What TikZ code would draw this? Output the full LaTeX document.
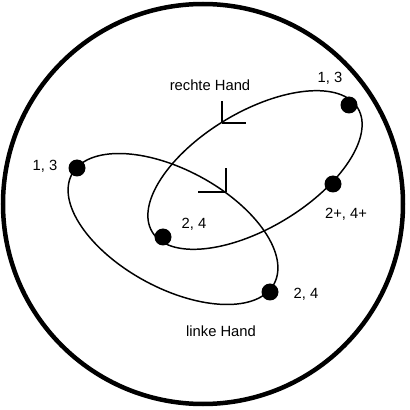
\documentclass[tikz,border=0pt]{standalone}
\usepackage{fontspec}
\setmainfont{Liberation Sans}
\usetikzlibrary{calc}

\begin{document}
\begin{tikzpicture}[x=0.025cm,y=0.025cm,
  lbl/.style={font=\fontsize{10.5}{12}\selectfont,inner sep=0pt},
  bahn/.style={line width=1.05pt},
  marke/.style={line width=1.4pt}]
  \useasboundingbox (0,0) rectangle (410,410);
  \coordinate (M) at (203,206);
  \draw[line width=3.2pt] (M) circle (200);
  % Ellipsen der beiden Haende
  \draw[bahn] (255,240) circle [x radius=120, y radius=58, rotate=31];
  \draw[bahn] (173,181) circle [x radius=115, y radius=59, rotate=-28.5];
  \coordinate (R1) at (349,305);
  \coordinate (R2) at (333,226);
  \coordinate (R3) at (163,173);
  \coordinate (L1) at (77,242);
  \coordinate (L2) at (270,118);
  \foreach \p in {R1,R2,R3,L1,L2}
    \fill (\p) circle (8.5);
  % Richtungsmarken
  \coordinate (TR) at (222,287);
  \coordinate (TL) at (226,218);
  \draw[marke] (TR) -- ++(0,22) (TR) -- ++(24,0);
  \draw[marke] (TL) -- ++(0,24) (TL) -- ++(-28,0);
  \node[lbl] (rh) at (210,325) {rechte Hand};
  \node[lbl] (lh) at (221,79) {linke Hand};
  \node[lbl] (a1) at (45,244) {1, 3};
  \node[lbl] (a2) at (330,332) {1, 3};
  \node[lbl] (a3) at (194,186) {2, 4};
  \node[lbl] (a4) at (346,196) {2+, 4+};
  \node[lbl] (a5) at (306,116) {2, 4};
\end{tikzpicture}
\end{document}
